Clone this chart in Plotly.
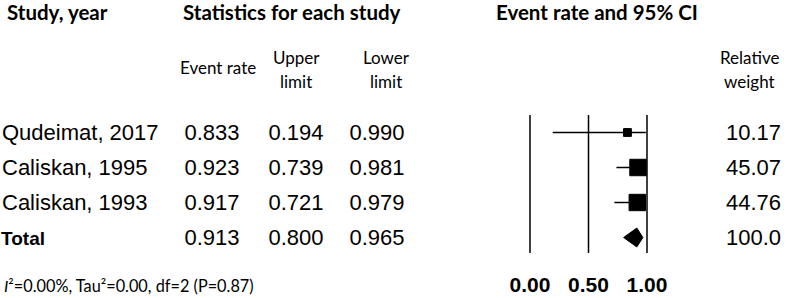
import math
import plotly.graph_objects as go

# ---------------- data ----------------
studies = ["Qudeimat, 2017", "Caliskan, 1995", "Caliskan, 1993"]
event_rate = [0.833, 0.923, 0.917]
upper_limit = [0.194, 0.739, 0.721]   # column labelled "Upper limit" in the source
lower_limit = [0.990, 0.981, 0.979]   # column labelled "Lower limit" in the source
rel_weight = [10.17, 45.07, 44.76]

total_label = "Total"
total_rate = 0.913
total_upper = 0.800
total_lower = 0.965
total_weight = 100.0

axis_ticks = [0.0, 0.5, 1.0]
tick_labels = ["0.00", "0.50", "1.00"]
footer_text = "<i>I</i>²=0.00%, Tau²=0.00, df=2 (P=0.87)"

# ---------------- layout constants ----------------
W, H = 787, 298
PX0, PXU = 530.0, 117.0      # pixel of 0 and pixels per unit on forest axis
FR = [-0.2, 1.2]             # forest axis range
ROW0, ROWH = 132.5, 35.0     # pixel of first row centre, row height
TXT_DY = 2.0 / ROWH          # small downward nudge for text baseline

def yr(px):
    return (px - ROW0) / ROWH

n = len(studies)
rows = list(range(n))
total_row = n
trow = [r + TXT_DY for r in rows]
ttot = total_row + TXT_DY

BLACK = "#000000"
ROW_FONT = dict(family="Liberation Sans, Arial", size=22, color=BLACK)
HEAD_FONT = dict(family="Lato, Carlito, sans-serif", size=20.5, color=BLACK)
SUB_FONT = dict(family="Lato, Carlito, sans-serif", size=17, color=BLACK)

fig = go.Figure()

# ---- table columns (text traces on full-width pixel axis x) ----
def col(xpos, texts, ys, font, pos):
    fig.add_trace(go.Scatter(x=[xpos] * len(texts), y=ys, text=texts, mode="text",
                             textposition=pos, textfont=font, hoverinfo="skip",
                             showlegend=False, cliponaxis=False, xaxis="x", yaxis="y"))

col(2, studies, trow, ROW_FONT, "middle right")
col(1, [f"<b>{total_label}</b>"], [ttot + 1.0 / ROWH],
    dict(family="Liberation Sans, Arial", size=19, color=BLACK), "middle right")
col(212, [f"{v:.3f}" for v in event_rate + [total_rate]], trow + [ttot], ROW_FONT, "middle center")
col(296, [f"{v:.3f}" for v in upper_limit + [total_upper]], trow + [ttot], ROW_FONT, "middle center")
col(377, [f"{v:.3f}" for v in lower_limit + [total_lower]], trow + [ttot], ROW_FONT, "middle center")
col(726, [f"{v:.2f}" for v in rel_weight] + [f"{total_weight:.1f}"], trow + [ttot], ROW_FONT, "middle right")

# ---- forest plot on axis x2 ----
for t in axis_ticks:
    fig.add_shape(type="line", xref="x2", yref="y", x0=t, x1=t,
                  y0=yr(115), y1=yr(253), line=dict(color=BLACK, width=1.5))

for i in rows:
    fig.add_trace(go.Scatter(x=[upper_limit[i], lower_limit[i]], y=[i, i], mode="lines",
                             line=dict(color=BLACK, width=1.5), hoverinfo="skip",
                             showlegend=False, cliponaxis=False, xaxis="x2", yaxis="y"))

sizes = [2.45 * math.sqrt(w) for w in rel_weight]
fig.add_trace(go.Scatter(x=event_rate, y=rows, mode="markers",
                         marker=dict(symbol="square", size=sizes, color=BLACK, opacity=1,
                                     line=dict(width=1, color=BLACK)),
                         hoverinfo="skip", showlegend=False, cliponaxis=False,
                         xaxis="x2", yaxis="y"))

dh = 0.27
fig.add_trace(go.Scatter(x=[total_upper, total_rate, total_lower, total_rate, total_upper],
                         y=[total_row, total_row - dh, total_row, total_row + dh, total_row],
                         mode="lines", fill="toself", fillcolor=BLACK,
                         line=dict(color=BLACK, width=1), hoverinfo="skip",
                         showlegend=False, cliponaxis=False, xaxis="x2", yaxis="y"))

fig.add_trace(go.Scatter(x=axis_ticks, y=[yr(287)] * len(axis_ticks),
                         text=[f"<b>{t}</b>" for t in tick_labels], mode="text",
                         textposition="middle center",
                         textfont=dict(family="Liberation Sans, Arial", size=21, color=BLACK),
                         hoverinfo="skip", showlegend=False, cliponaxis=False,
                         xaxis="x2", yaxis="y"))

# ---- headers ----
def ann(text, x, y, font, xanchor="left"):
    fig.add_annotation(text=text, x=x / W, y=1 - y / H, xref="paper", yref="paper",
                       xanchor=xanchor, yanchor="middle", showarrow=False, font=font)

ann("<b>Study, year</b>", 5, 12, HEAD_FONT)
ann("<b>Statistics for each study</b>", 181, 12, HEAD_FONT)
ann("<b>Event rate and 95% CI</b>", 597, 12, HEAD_FONT, "center")
ann("Event rate", 218, 67, SUB_FONT, "center")
ann("Upper", 296, 57, SUB_FONT, "center")
ann("limit", 296, 81, SUB_FONT, "center")
ann("Lower", 386, 57, SUB_FONT, "center")
ann("limit", 386, 81, SUB_FONT, "center")
ann("Relative", 749, 57, SUB_FONT, "center")
ann("weight", 749, 81, SUB_FONT, "center")
ann(footer_text, 2, 285, dict(family="Lato, Carlito, sans-serif", size=16.3, color=BLACK))

fig.update_layout(
    width=W, height=H, margin=dict(l=0, r=0, t=0, b=0),
    paper_bgcolor="white", plot_bgcolor="white", showlegend=False,
    xaxis=dict(domain=[0, 1], range=[0, W], visible=False, fixedrange=True),
    xaxis2=dict(domain=[(PX0 + PXU * FR[0]) / W, (PX0 + PXU * FR[1]) / W], range=FR,
                visible=False, anchor="y", fixedrange=True),
    yaxis=dict(domain=[0, 1], range=[yr(H), yr(0)], visible=False, fixedrange=True),
)

fig.write_html("out.html", config={"displayModeBar": False},
               post_script="document.body.style.margin='0';document.body.style.overflow='hidden';")
